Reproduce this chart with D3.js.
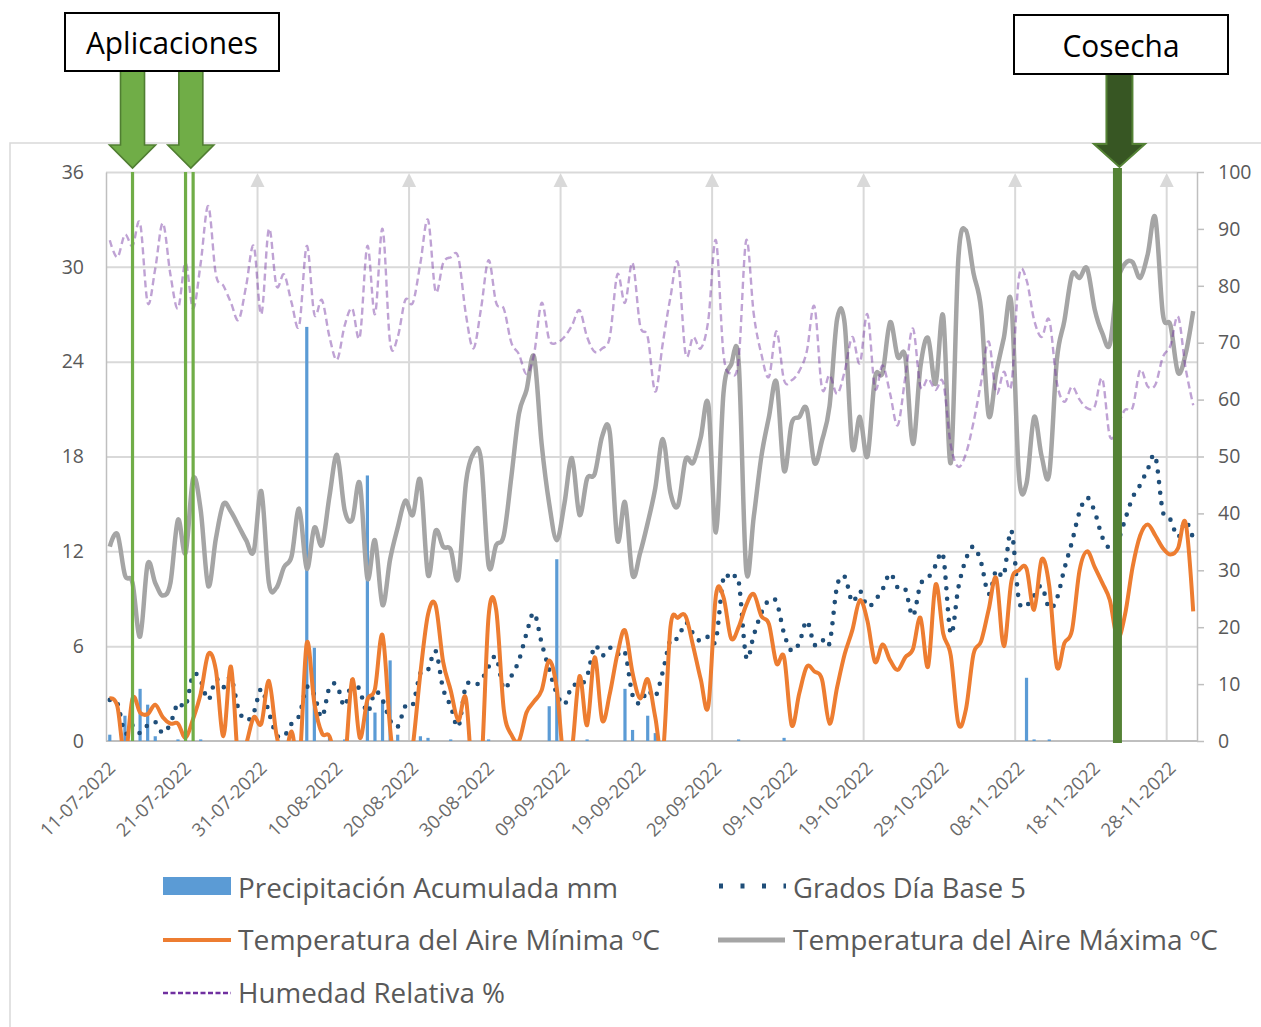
<!DOCTYPE html>
<html>
<head>
<meta charset="utf-8">
<script src="https://cdn.jsdelivr.net/npm/d3@7"></script>
<style>
  body { margin: 0; background: #ffffff; }
  text { font-family: "Open Sans", "Noto Sans", sans-serif; }
</style>
</head>
<body>
<svg id="chart" width="1261" height="1027"></svg>
<script>
// ---- Daily series, 11-07-2022 to 01-12-2022 (one value per day) ----
const firstDay = "11-07-2022";
const lastDay = "01-12-2022";

const tickLabels = ["11-07-2022", "21-07-2022", "31-07-2022", "10-08-2022", "20-08-2022",
  "30-08-2022", "09-09-2022", "19-09-2022", "29-09-2022", "09-10-2022", "19-10-2022",
  "29-10-2022", "08-11-2022", "18-11-2022", "28-11-2022"];
const gridDates = ["31-07-2022", "20-08-2022", "09-09-2022", "29-09-2022", "19-10-2022",
  "08-11-2022", "28-11-2022"];
const leftTicks = [0, 6, 12, 18, 24, 30, 36];
const rightTicks = [0, 10, 20, 30, 40, 50, 60, 70, 80, 90, 100];

// Precipitación Acumulada mm
const precipitacion = [
  0.4, 0, 1.6, 0, 3.3, 2.3, 0.3, 0, 0, 0.1,
  0, 0, 0.1, 0, 0, 0, 0, 0, 0, 0,
  0, 0, 0, 0, 0, 0, 26.2, 5.9, 0, 0.2,
  0, 0.1, 0, 0, 16.8, 1.8, 2.6, 5.1, 0.4, 0,
  0, 0.3, 0.2, 0, 0, 0.1, 0, 0, 0, 0,
  0.1, 0, 0, 0, 0, 0, 0, 0, 2.2, 11.5,
  0, 0, 0, 0.1, 0, 0, 0, 0, 3.3, 0.7,
  0, 1.6, 0.5, 0, 0, 0, 0, 0, 0, 0,
  0, 0, 0, 0.1, 0, 0, 0, 0, 0, 0.2,
  0, 0, 0, 0, 0, 0, 0, 0, 0, 0,
  0, 0, 0, 0, 0, 0, 0, 0, 0, 0,
  0, 0, 0, 0, 0, 0, 0, 0, 0, 0,
  0, 4.0, 0.1, 0, 0.1, 0, 0, 0, 0, 0,
  0, 0, 0, 0, 0, 0, 0, 0, 0, 0,
  0, 0, 0, 0];

// Grados Día Base 5
const gradosDia = [
  2.6, 2.4, 0.5, 1, 0.5, 1, 1.2, 0.5, 1.1, 2.4,
  2.2, 4.2, 3.8, 2.6, 3.9, 3.4, 4, 2, 1.3, 1.8,
  3.3, 1.8, 0.4, 0.3, 1.1, 1.6, 3.4, 2.9, 1.5, 3.4,
  3.5, 2.2, 3.8, 3.2, 1.8, 3.1, 2.6, 1.3, 0.9, 2.2,
  2.3, 4.3, 4.5, 5.7, 3.3, 2.2, 0.9, 3.5, 3.5, 3.8,
  4.7, 5.3, 3.3, 4.1, 5.1, 6.8, 8.1, 6.2, 4.5, 3,
  2.3, 3.5, 3.5, 4.1, 6, 5.4, 5.9, 5.5, 5.6, 2.9,
  2.4, 3.2, 2.8, 4.4, 6.4, 6.5, 7.5, 6.8, 6.3, 6.6,
  6.4, 10.3, 10.2, 10.1, 5.3, 6.7, 8.1, 8.9, 8.8, 6.8,
  5.7, 6.2, 7.6, 6.1, 6.4, 6.2, 9.8, 10.4, 8.8, 9.5,
  8.5, 8.9, 9.6, 10.6, 9.7, 9.6, 7.9, 9.9, 10.3, 11.1,
  11.7, 6.8, 9.7, 11.5, 12.3, 11.3, 9.3, 10.8, 10.5, 13.3,
  8.9, 8.6, 9.2, 9.8, 8.4, 9, 10.9, 12.6, 14.5, 15.4,
  14.5, 12.9, 12.2, 12.6, 14, 15.4, 16.2, 17.2, 18, 14.5,
  14, 12.9, 13.9, 12.8];

// Temperatura del Aire Mínima ºC
const tempMin = [
  2.7, 2.2, -1, 2.7, 1.8, 1.7, 2.3, 1.5, 1.1, 1.1,
  0.2, 1.4, 3, 5.5, 4.5, 0.3, 4.7, -1.5, -0.2, 1.5,
  1.1, 3.8, 0.4, -1.2, 0.6, -1.5, 6.2, 2.4, 0.5, 0.3,
  -1.5, -1.5, 3.9, 0.2, 2.6, 3.3, 6.7, 0.8, -3, -3,
  -0.3, 4.3, 8, 8.6, 5, 3.2, 1.3, 2.7, -3, -2,
  7.9, 8.3, 2, 0.4, 0, 1.8, 2.5, 3.2, 5.1, 3.3,
  -1.5, -0.5, 4.1, 1, 5.3, 1.3, 3, 5.5, 7, 4.3,
  2.7, 3.9, 1.5, -0.8, 7.2, 7.8, 7.9, 6, 3.9, 2.2,
  9.2, 9.1, 6.5, 7.2, 8.6, 9.3, 7.9, 7.4, 4.9, 5.3,
  1, 3, 4.7, 4.4, 3.9, 1.1, 3.4, 5.5, 7, 8.9,
  7.6, 5, 6.1, 5.1, 4.5, 5.3, 5.8, 7.8, 4.7, 9.9,
  6.8, 5.4, 1.1, 2, 5.5, 6.3, 8.3, 10.3, 6, 10.1,
  10.8, 10.9, 8.3, 11.5, 9.8, 4.7, 6.2, 7, 10.8, 12,
  11, 10, 8.9, 6.5, 8, 11, 13, 13.7, 13, 12.2,
  11.8, 12.2, 13.8, 8.2];

// Temperatura del Aire Máxima ºC
const tempMax = [
  12.3, 13.1, 10.5, 10, 6.6, 11.2, 10, 9.2, 10, 14,
  11.9, 16.6, 14.6, 9.8, 12.8, 15, 14.5, 13.6, 12.7, 12,
  15.8, 10, 9.7, 11, 11.7, 14.7, 10.9, 13.5, 12.4, 15.5,
  18.1, 14.6, 14, 16.3, 10.3, 12.7, 8.6, 11.5, 13.5, 15.2,
  14.3, 16.5, 10.5, 13.3, 12.3, 12.1, 10.3, 16.3, 18.2, 17.8,
  11.1, 12.4, 13, 16.7, 20.7, 22.2, 24.3, 18.8, 15, 12.7,
  15, 17.9, 14.3, 16.6, 16.9, 19.3, 19.5, 12.7, 15.1, 10.5,
  11.9, 13.8, 16, 19.1, 15.7, 14.9, 17.8, 17.6, 19.2, 21.3,
  13.2, 22, 23.8, 24, 10.8, 14.2, 18, 20.5, 22.7, 17.1,
  20.1, 20.5, 21, 17.6, 19, 21.2, 26.7, 26.4, 18.6, 20.5,
  18, 23, 23.3, 26.5, 24.3, 24.3, 18.8, 23.7, 25.5, 22.6,
  26.9, 17.6, 30.5, 32.3, 29.6, 27.3, 20.6, 23.3, 25.5, 27.7,
  16.8, 16.3, 20.5, 18, 16.9, 24.1, 26.6, 29.5, 29.3, 29.9,
  27.3, 25.8, 25.1, 29, 30.2, 30.3, 29.3, 30.8, 33.1, 27,
  26.3, 23.3, 24.5, 27.2];

// Humedad Relativa %
const humedad = [
  88, 85, 89, 87, 91, 77, 83, 91, 82, 76,
  84, 76, 84, 94, 82, 80, 77, 74, 80, 87,
  75, 90, 80, 82, 77, 73, 87, 75, 77.5, 71,
  67, 73, 76, 71, 87, 75, 90, 70, 71, 77.5,
  77, 84, 91.6, 79, 84, 85, 85, 75, 69, 76,
  84.5, 77, 76, 70, 68, 64.5, 68, 77, 70.5, 70,
  71, 73, 75.7, 71, 68.4, 69, 71, 82, 77, 84,
  73, 71, 61.4, 70, 78, 84, 68, 71, 69, 74,
  88, 68, 64.6, 67, 88, 75, 68, 64, 72, 63.4,
  63.4, 65, 68.5, 76.4, 62, 64.3, 61, 65, 71, 66.4,
  75, 62, 66, 61, 55.5, 64, 72.5, 62.3, 63.7, 61.7,
  63, 52, 48.2, 50.5, 56, 63, 70.2, 61.1, 64.9, 62.6,
  81.5, 81, 74, 71, 74, 63, 59.6, 62.3, 60, 58.5,
  58.8, 63.7, 53.5, 55.5, 58.2, 58.6, 65.2, 62.3, 62.6, 67.5,
  69.5, 74.6, 65.5, 59];

// Field events
const aplicaciones = ["14-07-2022", "21-07-2022", "22-07-2022"];
const cosecha = ["21-11-2022"];

// ---- Layout ----
const W = 1261, H = 1027;
const plot = { left: 106, right: 1197, top: 172, bottom: 741 };
const C = {
  grid: "#D9D9D9", axis: "#BFBFBF", text: "#595959",
  precip: "#5B9BD5", gd: "#1F4E79", tmin: "#ED7D31", tmax: "#A5A5A5", rh: "#7030A0",
  appl: "#70AD47", applEdge: "#507E32", cos: "#375623", cosEdge: "#548235", cosLine: "#548235"
};

const parse = d3.timeParse("%d-%m-%Y");
const days = d3.timeDay.range(parse(firstDay), d3.timeDay.offset(parse(lastDay), 1));
const mid = d => d3.timeHour.offset(d, 12);

const x = d3.scaleTime()
  .domain([days[0], d3.timeDay.offset(days[days.length - 1], 1)])
  .range([plot.left, plot.right]);
const yL = d3.scaleLinear().domain([0, 36]).range([plot.bottom, plot.top]);
const yR = d3.scaleLinear().domain([0, 100]).range([plot.bottom, plot.top]);

const svg = d3.select("#chart");

// outer chart frame
svg.append("rect")
  .attr("x", 10).attr("y", 143).attr("width", W + 20).attr("height", H)
  .attr("fill", "none").attr("stroke", C.grid).attr("stroke-width", 1.5);

// clip for the plotted series
svg.append("defs").append("clipPath").attr("id", "plotClip")
  .append("rect")
  .attr("x", plot.left).attr("y", plot.top - 2)
  .attr("width", plot.right - plot.left).attr("height", plot.bottom - plot.top + 2);

// horizontal gridlines
svg.append("g")
  .attr("transform", `translate(${plot.left},0)`)
  .call(d3.axisLeft(yL).tickValues(leftTicks.filter(t => t > 0))
    .tickSize(-(plot.right - plot.left)).tickFormat(""))
  .call(g => g.select(".domain").remove())
  .call(g => g.selectAll("line").attr("stroke", C.grid).attr("stroke-width", 2));

// vertical gridlines with arrow heads
const vg = svg.append("g");
gridDates.map(parse).forEach(d => {
  const gx = x(d);
  vg.append("line").attr("x1", gx).attr("x2", gx)
    .attr("y1", plot.top + 12).attr("y2", plot.bottom)
    .attr("stroke", C.grid).attr("stroke-width", 2);
  vg.append("path")
    .attr("d", `M${gx},${plot.top + 1}L${gx + 7},${plot.top + 15}L${gx - 7},${plot.top + 15}Z`)
    .attr("fill", C.grid);
});

// left axis
svg.append("g")
  .attr("transform", `translate(${plot.left},0)`)
  .call(d3.axisLeft(yL).tickValues(leftTicks).tickSize(0).tickPadding(22))
  .call(g => g.select(".domain").attr("stroke", C.axis).attr("stroke-width", 1.5))
  .call(g => g.selectAll("text").attr("fill", C.text)
    .style("font-size", "19.5px").style("font-family", "'Open Sans', sans-serif"));

// right axis
svg.append("g")
  .attr("transform", `translate(${plot.right},0)`)
  .call(d3.axisRight(yR).tickValues(rightTicks).tickSizeInner(7).tickSizeOuter(0).tickPadding(14))
  .call(g => g.select(".domain").attr("stroke", C.axis).attr("stroke-width", 1.5))
  .call(g => g.selectAll("line").attr("stroke", C.axis).attr("stroke-width", 1.5))
  .call(g => g.selectAll("text").attr("fill", C.text)
    .style("font-size", "19.5px").style("font-family", "'Open Sans', sans-serif"));

// bottom axis line and rotated date labels
svg.append("line")
  .attr("x1", plot.left).attr("x2", plot.right)
  .attr("y1", plot.bottom).attr("y2", plot.bottom)
  .attr("stroke", C.axis).attr("stroke-width", 2);

svg.append("g").selectAll("text")
  .data(tickLabels)
  .join("text")
  .attr("transform", d => `translate(${x(mid(parse(d))) + 2},${plot.bottom + 24}) rotate(-45)`)
  .attr("text-anchor", "end")
  .attr("dy", "0.35em")
  .attr("fill", "#6a6a6a")
  .style("font-size", "18.5px")
  .text(d => d);

// ---- Series ----
const series = svg.append("g").attr("clip-path", "url(#plotClip)");
const curve = d3.curveCatmullRom.alpha(0);

// precipitation bars
series.append("g").selectAll("rect")
  .data(precipitacion.map((v, i) => ({ d: days[i], v })).filter(p => p.v > 0))
  .join("rect")
  .attr("x", p => x(mid(p.d)) - 1.6)
  .attr("width", 3.2)
  .attr("y", p => yL(p.v))
  .attr("height", p => yL(0) - yL(p.v))
  .attr("fill", C.precip);

function drawLine(values, yScale, attrs) {
  const line = d3.line()
    .x((v, i) => x(mid(days[i])))
    .y(v => yScale(v))
    .curve(curve);
  const p = series.append("path").datum(values)
    .attr("d", line).attr("fill", "none");
  Object.entries(attrs).forEach(([k, v]) => p.attr(k, v));
  return p;
}

drawLine(gradosDia, yL, {
  stroke: C.gd, "stroke-width": 4.6, "stroke-linecap": "round", "stroke-dasharray": "0 10.5"
});
drawLine(tempMin, yL, { stroke: C.tmin, "stroke-width": 4, "stroke-linejoin": "round" });
drawLine(tempMax, yL, { stroke: C.tmax, "stroke-width": 4.5, "stroke-linejoin": "round" });
drawLine(humedad, yR, {
  stroke: C.rh, "stroke-width": 2.4, "stroke-dasharray": "7 4", "stroke-opacity": 0.45
});

// ---- Event markers ----
const ev = svg.append("g");
aplicaciones.map(parse).forEach(d => {
  const ex = x(mid(d));
  ev.append("line").attr("x1", ex).attr("x2", ex)
    .attr("y1", plot.top).attr("y2", plot.bottom)
    .attr("stroke", C.appl).attr("stroke-width", 3.2);
});
cosecha.map(parse).forEach(d => {
  const ex = x(mid(d));
  ev.append("line").attr("x1", ex).attr("x2", ex)
    .attr("y1", plot.top - 4).attr("y2", plot.bottom + 2)
    .attr("stroke", C.cosLine).attr("stroke-width", 9);
});

function blockArrow(cx, top, headTop, tipY, shaftHalf, headHalf, fill, edge, sw) {
  const pts = [
    [cx - shaftHalf, top], [cx + shaftHalf, top], [cx + shaftHalf, headTop],
    [cx + headHalf, headTop], [cx, tipY], [cx - headHalf, headTop], [cx - shaftHalf, headTop]
  ];
  svg.append("path")
    .attr("d", "M" + pts.map(p => p.join(",")).join("L") + "Z")
    .attr("fill", fill).attr("stroke", edge).attr("stroke-width", sw)
    .attr("stroke-linejoin", "miter");
}

function labelBox(x0, y0, w, h, label, len) {
  svg.append("rect").attr("x", x0).attr("y", y0).attr("width", w).attr("height", h)
    .attr("fill", "#ffffff").attr("stroke", "#000000").attr("stroke-width", 2);
  svg.append("text")
    .attr("x", x0 + w / 2).attr("y", y0 + h / 2)
    .attr("text-anchor", "middle").attr("dominant-baseline", "central")
    .attr("textLength", len).attr("lengthAdjust", "spacingAndGlyphs")
    .attr("fill", "#000000").style("font-size", "31px")
    .text(label);
}

// arrows for the applications: one over the first date, one over the pair
const appX = aplicaciones.map(parse).map(d => x(mid(d)));
blockArrow(appX[0], 71, 145, 168, 12, 23, C.appl, C.applEdge, 1.6);
blockArrow((appX[1] + appX[2]) / 2 + 1.5, 71, 145, 168, 12, 23, C.appl, C.applEdge, 1.6);
labelBox(65, 13, 214, 58, "Aplicaciones", 172);

const cosX = x(mid(parse(cosecha[0])));
blockArrow(cosX + 2, 74, 144, 167, 13, 25.5, C.cos, C.cosEdge, 2);
labelBox(1014, 15, 214, 59, "Cosecha", 117);

// ---- Legend ----
const legend = svg.append("g");
const legendFont = "26.5px";
function legendText(lx, ly, label, len) {
  legend.append("text").attr("x", lx).attr("y", ly)
    .attr("dominant-baseline", "central")
    .attr("textLength", len).attr("lengthAdjust", "spacingAndGlyphs")
    .attr("fill", C.text).style("font-size", legendFont)
    .text(label);
}
// row 1
legend.append("rect").attr("x", 163).attr("y", 877).attr("width", 68).attr("height", 18)
  .attr("fill", C.precip);
legendText(238, 888, "Precipitación Acumulada mm", 380);
legend.append("line").attr("x1", 719).attr("x2", 786).attr("y1", 886).attr("y2", 886)
  .attr("stroke", C.gd).attr("stroke-width", 5).attr("stroke-dasharray", "4 17.5");
legendText(793, 888, "Grados Día Base 5", 233);
// row 2
legend.append("line").attr("x1", 163).attr("x2", 231).attr("y1", 940).attr("y2", 940)
  .attr("stroke", C.tmin).attr("stroke-width", 4);
legendText(238, 940, "Temperatura del Aire Mínima ºC", 422);
legend.append("line").attr("x1", 718).attr("x2", 785).attr("y1", 940).attr("y2", 940)
  .attr("stroke", C.tmax).attr("stroke-width", 5);
legendText(793, 940, "Temperatura del Aire Máxima ºC", 425);
// row 3
legend.append("line").attr("x1", 163).attr("x2", 231).attr("y1", 993).attr("y2", 993)
  .attr("stroke", C.rh).attr("stroke-width", 2.4).attr("stroke-dasharray", "5 2.5");
legendText(238, 993, "Humedad Relativa %", 267);
</script>
</body>
</html>
